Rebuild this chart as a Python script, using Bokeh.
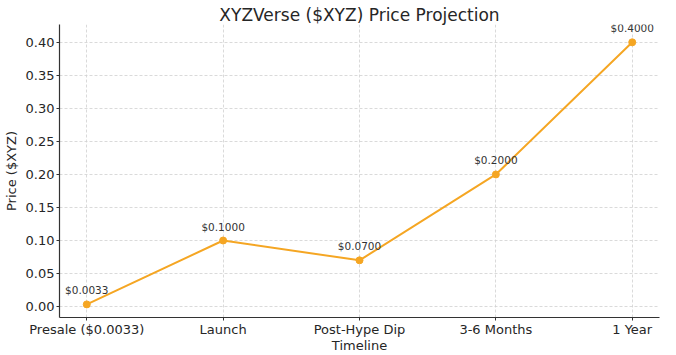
from bokeh.plotting import figure
from bokeh.models import ColumnDataSource, Range1d, FixedTicker, NumeralTickFormatter, LabelSet
from bokeh.core.properties import value
from bokeh.embed import file_html
from bokeh.resources import INLINE

categories = ["Presale ($0.0033)", "Launch", "Post-Hype Dip", "3-6 Months", "1 Year"]
prices = [0.0033, 0.10, 0.07, 0.20, 0.40]
price_labels = ["$0.0033", "$0.1000", "$0.0700", "$0.2000", "$0.4000"]
y_ticks = [0.00, 0.05, 0.10, 0.15, 0.20, 0.25, 0.30, 0.35, 0.40]

xs = list(range(len(categories)))
src = ColumnDataSource(dict(x=xs, y=prices, lab=price_labels))

FONT = "DejaVu Sans"
COLOR = "#f5a623"

span = max(prices) - min(prices)
p = figure(width=676, height=355, output_backend="svg", toolbar_location=None,
           x_range=Range1d(-0.2, len(categories) - 1 + 0.2),
           y_range=Range1d(min(prices) - 0.05 * span, max(prices) + 0.068 * span),
           min_border_left=50, min_border_right=17, min_border_top=24, min_border_bottom=20)

p.title.text = "XYZVerse ($XYZ) Price Projection"
p.title.align = "center"
p.title.text_font = FONT
p.title.text_font_size = "17px"
p.title.text_font_style = "normal"
p.title.text_color = "#262626"
p.title.offset = 0
p.title.standoff = 0

p.outline_line_color = None
p.background_fill_color = "white"
p.border_fill_color = "white"

p.line("x", "y", source=src, line_color=COLOR, line_width=2)
p.scatter("x", "y", source=src, size=7, fill_color=COLOR, line_color=COLOR)

labels = LabelSet(x="x", y="y", text="lab", source=src, x_offset=0, y_offset=8,
                  text_align="center", text_baseline="bottom",
                  text_font=value(FONT), text_font_size=value("10.5px"), text_color="#333333")
p.add_layout(labels)

p.xaxis.ticker = FixedTicker(ticks=xs)
p.xaxis.major_label_overrides = {i: c for i, c in enumerate(categories)}
p.yaxis.ticker = FixedTicker(ticks=y_ticks)
p.yaxis.formatter = NumeralTickFormatter(format="0.00")

for ax in (p.xaxis, p.yaxis):
    ax.axis_line_color = "#333333"
    ax.axis_line_width = 1.2
    ax.major_tick_line_color = "#333333"
    ax.major_tick_out = 3
    ax.major_tick_in = 0
    ax.minor_tick_line_color = None
    ax.major_label_text_font = FONT
    ax.major_label_text_font_size = "13px"
    ax.major_label_text_color = "#262626"
    ax.major_label_standoff = 2

p.yaxis.axis_label = "Price ($XYZ)"
p.xaxis.axis_label = "Timeline"
for ax in (p.xaxis, p.yaxis):
    ax.axis_label_text_font = FONT
    ax.axis_label_text_font_size = "13px"
    ax.axis_label_text_font_style = "normal"
    ax.axis_label_text_color = "#262626"
p.yaxis.axis_label_standoff = 4
p.xaxis.axis_label_standoff = -2
p.xaxis.major_label_standoff = 1

p.xgrid.ticker = FixedTicker(ticks=xs)
p.ygrid.ticker = FixedTicker(ticks=y_ticks)
for g in (p.xgrid, p.ygrid):
    g.grid_line_color = "#d0d0d0"
    g.grid_line_dash = "3 2"
    g.grid_line_width = 0.8

open("out.html", "w").write(file_html(p, INLINE))
